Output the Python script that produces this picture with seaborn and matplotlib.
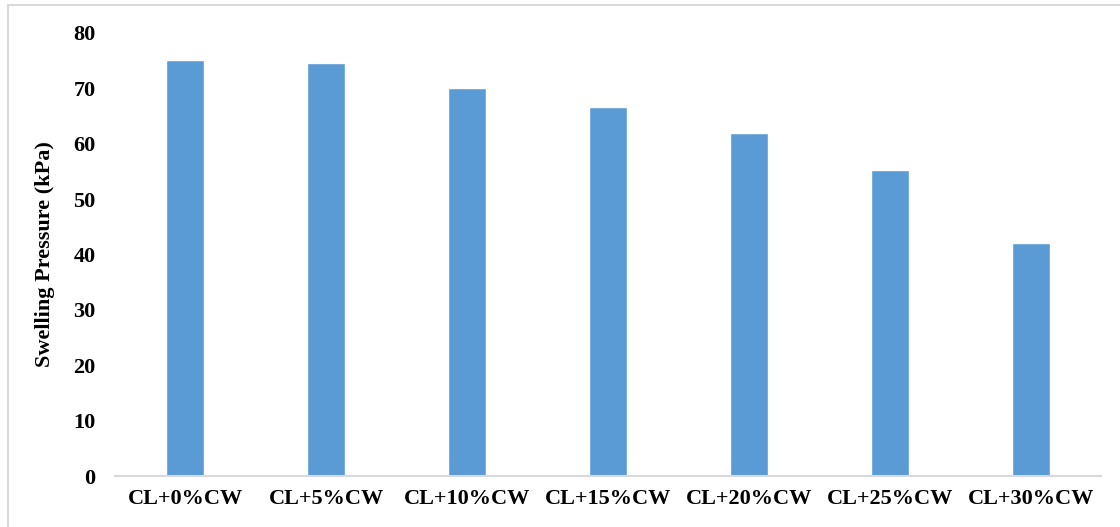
import matplotlib
matplotlib.use("Agg")
import matplotlib.pyplot as plt
from matplotlib.lines import Line2D
import seaborn as sns
import pandas as pd

# Swelling pressure of clay mixed with different percentages of CW
mixes = ["CL+0%CW", "CL+5%CW", "CL+10%CW", "CL+15%CW",
         "CL+20%CW", "CL+25%CW", "CL+30%CW"]
swelling_kpa = [75.2, 74.5, 70.0, 66.6, 61.9, 55.2, 42.0]
y_ticks = [0, 10, 20, 30, 40, 50, 60, 70, 80]

df = pd.DataFrame({"mix": mixes, "pressure": swelling_kpa})

sns.set_theme(style="white")
plt.rcParams["font.family"] = ["Liberation Serif", "DejaVu Serif"]
plt.rcParams["font.weight"] = "bold"
plt.rcParams["text.color"] = "black"
plt.rcParams["axes.labelcolor"] = "black"
plt.rcParams["xtick.color"] = "black"
plt.rcParams["ytick.color"] = "black"

fig = plt.figure(figsize=(11.2, 5.27), dpi=100)
ax = fig.add_axes([115 / 1120, 1 - 476 / 527, (1101 - 115) / 1120, (476 - 33) / 527])

sns.barplot(data=df, x="mix", y="pressure", color="#5B9BD5", saturation=1,
            width=0.27, ax=ax)

ax.set_ylim(0, 80)
ax.set_xlim(-0.5, len(mixes) - 0.5)
ax.set_yticks(y_ticks)
ax.set_yticklabels([str(t) for t in y_ticks], fontsize=16, fontweight="bold", color="black")
ax.set_xticks(range(len(mixes)))
ax.set_xticklabels(mixes, fontsize=16, fontweight="bold", color="black")
ax.tick_params(axis="both", length=0)
ax.tick_params(axis="y", pad=14)
ax.tick_params(axis="x", pad=9)

ax.set_xlabel("")
ax.set_ylabel("Swelling Pressure (kPa)", fontsize=16, fontweight="bold",
              color="black", labelpad=13)

for side in ["top", "right", "left"]:
    ax.spines[side].set_visible(False)
ax.spines["bottom"].set_color("#D9D9D9")
ax.spines["bottom"].set_linewidth(1.5)

# light frame edges around the chart area
fig.add_artist(Line2D([8 / 1120, 8 / 1120], [0, 1 - 5 / 527], transform=fig.transFigure,
                      color="#D9D9D9", lw=1.5))
fig.add_artist(Line2D([8 / 1120, 1], [1 - 5 / 527, 1 - 5 / 527], transform=fig.transFigure,
                      color="#D9D9D9", lw=1.5))

fig.savefig("out.png", dpi=100, facecolor="white")
